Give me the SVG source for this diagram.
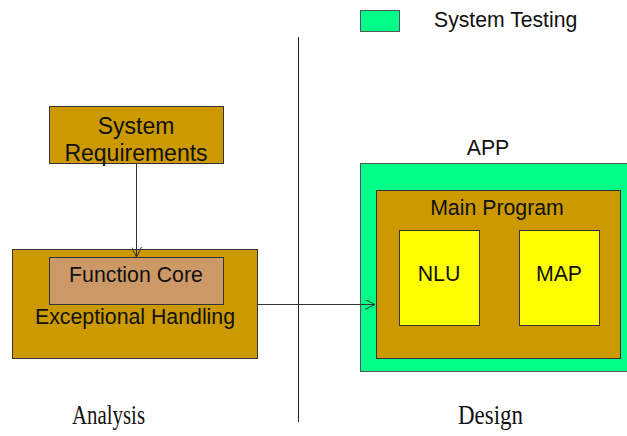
<svg xmlns="http://www.w3.org/2000/svg" width="627" height="436" viewBox="0 0 627 436">
  <style>
    .t { font-family: "Liberation Sans", Arial, sans-serif; fill: #111; }
    .s { font-family: "Liberation Serif", "Times New Roman", serif; fill: #111; }
    .gold { fill: #CC9900; stroke: #333; stroke-width: 1; }
    .tan { fill: #CC9966; stroke: #333; stroke-width: 1; }
    .green { fill: #00FF88; stroke: #555; stroke-width: 1; }
    .yellow { fill: #FFFF00; stroke: #333; stroke-width: 1; }
    .conn { stroke: #333; stroke-width: 1; fill: none; }
  </style>
  <defs>
    <marker id="arr" viewBox="0 0 10 10" refX="10" refY="5" markerWidth="10" markerHeight="10" orient="auto" markerUnits="userSpaceOnUse">
      <path d="M0,0 L10,5 L0,10" fill="none" stroke="#333" stroke-width="1"/>
    </marker>
  </defs>
  <rect width="627" height="436" fill="#fff"/>

  <!-- legend -->
  <g id="legend">
    <rect class="green" x="360.5" y="10.5" width="39" height="21"/>
    <text class="t" x="434" y="27" font-size="21.2">System Testing</text>
  </g>

  <!-- phase divider -->
  <line x1="298.5" y1="37" x2="298.5" y2="422" stroke="#222" stroke-width="1"/>

  <g id="sysreq">
    <rect class="gold" x="49.5" y="106.5" width="174" height="57"/>
    <text class="t" x="136" y="134" font-size="23" text-anchor="middle">System</text>
    <text class="t" x="136" y="161" font-size="23" text-anchor="middle">Requirements</text>
  </g>

  <g id="exception">
    <rect class="gold" x="12.5" y="249.5" width="245" height="109"/>
    <text class="t" x="135" y="324" font-size="21.3" text-anchor="middle">Exceptional Handling</text>
  </g>

  <g id="core">
    <rect class="tan" x="49.5" y="257.5" width="174" height="47"/>
    <text class="t" x="136" y="282" font-size="21.3" text-anchor="middle">Function Core</text>
  </g>

  <g id="app">
    <text class="t" x="488" y="155" font-size="21.3" text-anchor="middle">APP</text>
    <rect class="green" x="360.5" y="163.5" width="270" height="208"/>
  </g>

  <g id="main">
    <rect class="gold" x="376.5" y="190.5" width="244" height="168"/>
    <text class="t" x="497" y="215" font-size="21.3" text-anchor="middle">Main Program</text>
  </g>

  <g id="nlu">
    <rect class="yellow" x="399.5" y="230.5" width="80" height="95"/>
    <text class="t" x="439" y="281" font-size="21.3" text-anchor="middle">NLU</text>
  </g>

  <g id="map">
    <rect class="yellow" x="519.5" y="230.5" width="80" height="95"/>
    <text class="t" x="559" y="281" font-size="21.3" text-anchor="middle">MAP</text>
  </g>

  <g id="connectors">
    <line class="conn" x1="136.5" y1="164" x2="136.5" y2="257" marker-end="url(#arr)"/>
    <line class="conn" x1="258" y1="304.5" x2="375" y2="304.5" marker-end="url(#arr)"/>
  </g>

  <g id="phases">
    <text class="s" x="72" y="424" font-size="27" textLength="73" lengthAdjust="spacingAndGlyphs">Analysis</text>
    <text class="s" x="458" y="424" font-size="27" textLength="65" lengthAdjust="spacingAndGlyphs">Design</text>
  </g>
</svg>
